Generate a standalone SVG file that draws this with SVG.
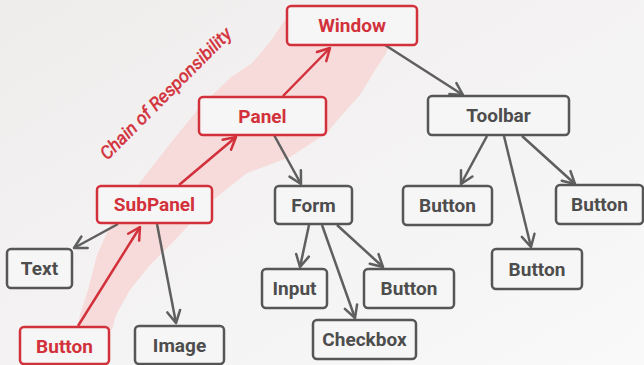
<svg xmlns="http://www.w3.org/2000/svg" width="644" height="365" viewBox="0 0 644 365">
<defs>
<linearGradient id="bg" x1="0" y1="0" x2="1" y2="1">
<stop offset="0" stop-color="#efecec"/>
<stop offset="1" stop-color="#f9f9f9"/>
</linearGradient>
<marker id="ag" markerUnits="userSpaceOnUse" markerWidth="20" markerHeight="20" viewBox="-14 -10 20 20" refX="0" refY="0" orient="auto">
<path d="M-12,-6.5 L0,0 L-12,6.5" fill="none" stroke="#5f5f5f" stroke-width="2.5" stroke-linecap="round" stroke-linejoin="round"/>
</marker>
<marker id="ar" markerUnits="userSpaceOnUse" markerWidth="20" markerHeight="20" viewBox="-14 -10 20 20" refX="0" refY="0" orient="auto">
<path d="M-12,-6.5 L0,0 L-12,6.5" fill="none" stroke="#d2313b" stroke-width="2.5" stroke-linecap="round" stroke-linejoin="round"/>
</marker>
<style>
.box{fill:#f6f6f6;stroke:#565656;stroke-width:2.5}
.rbox{fill:#f6f6f6;stroke:#d2313b;stroke-width:2.5}
.t{font-family:Roboto,"Liberation Sans",sans-serif;font-weight:bold;font-size:19px;fill:#4d4d4d;text-anchor:middle}
.rt{font-family:Roboto,"Liberation Sans",sans-serif;font-weight:bold;font-size:19px;fill:#d2313b;text-anchor:middle}
.g{stroke:#5f5f5f;stroke-width:2.5;fill:none;marker-end:url(#ag)}
.r{stroke:#d2313b;stroke-width:2.5;fill:none;marker-end:url(#ar)}
</style>
</defs>
<rect width="644" height="365" fill="url(#bg)"/>
<path d="M77,330 L80,315 L88,290 L97,255 L115,215 L148,172 L173,140 L200,107 L230,78 L252,63 L270,42 L285,20 L295,10 L395,10 L392,40 L385,55 L377,67 L360,95 L340,117 L327,133 L290,157 L247,173 L213,200 L200,213 L175,240 L150,265 L130,290 L116,315 L112,330 Z" fill="#f6dbda"/>
<text transform="translate(170,98) rotate(-45)" font-family="Roboto,'Liberation Sans',sans-serif" font-size="18" font-style="italic" fill="#d2313b" stroke="#d2313b" stroke-width="0.5" text-anchor="middle">Chain of Responsibility</text>
<g id="connectors">
<line class="r" x1="283" y1="96" x2="330" y2="48"/>
<line class="r" x1="179" y1="185" x2="236" y2="137"/>
<line class="r" x1="78" y1="326" x2="140" y2="227"/>
<line class="g" x1="385" y1="45" x2="463" y2="95"/>
<line class="g" x1="274" y1="135" x2="301" y2="184"/>
<line class="g" x1="118" y1="224" x2="74" y2="248"/>
<line class="g" x1="157" y1="224" x2="176" y2="323"/>
<line class="g" x1="309" y1="225" x2="300" y2="267"/>
<line class="g" x1="322" y1="225" x2="355" y2="318"/>
<line class="g" x1="337" y1="225" x2="383" y2="267"/>
<line class="g" x1="487" y1="136" x2="461" y2="184"/>
<line class="g" x1="504" y1="136" x2="531" y2="247"/>
<line class="g" x1="522" y1="136" x2="575" y2="184"/>
</g>
<g id="window"><rect class="rbox" x="287" y="6" width="130" height="39" rx="4"/><text class="rt" x="352" y="32">Window</text></g>
<g id="panel"><rect class="rbox" x="199" y="97" width="127" height="38" rx="4"/><text class="rt" x="262.5" y="123">Panel</text></g>
<g id="subpanel"><rect class="rbox" x="97" y="186" width="115" height="37" rx="4"/><text class="rt" x="154.5" y="211">SubPanel</text></g>
<g id="button-red"><rect class="rbox" x="20" y="327" width="89" height="37" rx="4"/><text class="rt" x="64.5" y="353">Button</text></g>
<g id="form"><rect class="box" x="275" y="186" width="77" height="38" rx="4"/><text class="t" x="313.5" y="212">Form</text></g>
<g id="toolbar"><rect class="box" x="428" y="96" width="141" height="39" rx="4"/><text class="t" x="498.5" y="122">Toolbar</text></g>
<g id="tb-button-left"><rect class="box" x="403" y="186" width="89" height="39" rx="4"/><text class="t" x="447.5" y="212">Button</text></g>
<g id="tb-button-right"><rect class="box" x="556" y="185" width="87" height="39" rx="4"/><text class="t" x="599.5" y="211">Button</text></g>
<g id="tb-button-mid"><rect class="box" x="492" y="249" width="90" height="40" rx="4"/><text class="t" x="537" y="276">Button</text></g>
<g id="text"><rect class="box" x="7" y="249" width="65" height="39" rx="4"/><text class="t" x="39.5" y="275">Text</text></g>
<g id="image"><rect class="box" x="135" y="326" width="89" height="38" rx="4"/><text class="t" x="179.5" y="352">Image</text></g>
<g id="input"><rect class="box" x="262" y="269" width="65" height="39" rx="4"/><text class="t" x="294.5" y="295">Input</text></g>
<g id="form-button"><rect class="box" x="364" y="269" width="90" height="39" rx="4"/><text class="t" x="409" y="295">Button</text></g>
<g id="checkbox"><rect class="box" x="313" y="320" width="103" height="39" rx="4"/><text class="t" x="364.5" y="346">Checkbox</text></g>
</svg>
